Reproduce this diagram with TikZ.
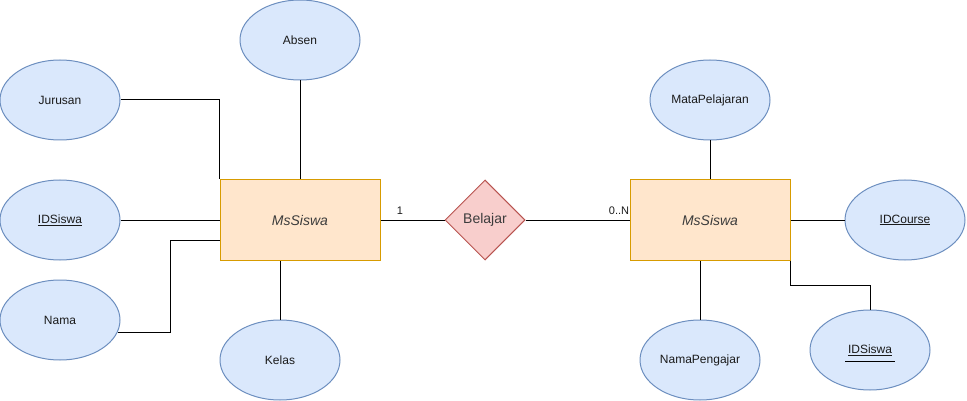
\documentclass[tikz,border=0pt]{standalone}
\usepackage{fontspec}
\setmainfont{Liberation Sans}
\usetikzlibrary{shapes.geometric,calc}
\definecolor{attrfill}{HTML}{DAE8FC}
\definecolor{attrdraw}{HTML}{6C8EBF}
\definecolor{entfill}{HTML}{FFE6CC}
\definecolor{entdraw}{HTML}{D79B00}
\definecolor{relfill}{HTML}{F8CECC}
\definecolor{reldraw}{HTML}{B85450}
\definecolor{txt}{HTML}{1A1A1A}
\tikzset{
  attr/.style={ellipse, draw=attrdraw, fill=attrfill, line width=1pt, minimum width=120pt, minimum height=80pt, inner sep=0pt, font=\fontsize{12pt}{14pt}\selectfont, text=txt},
  ent/.style={rectangle, draw=entdraw, fill=entfill, line width=1pt, minimum width=160pt, minimum height=80pt, inner sep=0pt, font=\fontsize{14pt}{16pt}\selectfont\itshape, text=txt!85},
  rel/.style={diamond, draw=reldraw, fill=relfill, line width=1pt, minimum width=80pt, minimum height=80pt, inner sep=0pt, aspect=1, font=\fontsize{14pt}{16pt}\selectfont, text=txt!85},
  conn/.style={line width=1pt, black},
  card/.style={font=\fontsize{11pt}{13pt}\selectfont, inner sep=0pt, text=txt}
}
\begin{document}
\begin{tikzpicture}[x=1pt,y=-1pt]
\useasboundingbox (0,0) rectangle (967,401);
% entities
\node[ent] (e1) at (300,220) {MsSiswa};
\node[ent] (e2) at (710,220) {MsSiswa};
\node[rel] (rel) at (485,220) {Belajar};
% attributes left
\node[attr] (absen) at (300,40) {Absen};
\node[attr] (jur) at (60,100) {Jurusan};
\node[attr] (ids1) at (60,220) {\underline{IDSiswa}};
\node[attr] (nama) at (60,320) {Nama};
\node[attr] (kelas) at (280,360) {Kelas};
% attributes right
\node[attr] (mp) at (710,100) {MataPelajaran};
\node[attr] (idc) at (905,220) {\underline{IDCourse}};
\node[attr] (np) at (700,360) {NamaPengajar};
\node[attr] (ids2) at (870,350) {\underline{IDSiswa}};
\draw[line width=0.8pt, black] ([xshift=-25pt,yshift=-11pt]ids2.center) -- ++(50,0);
% connectors left
\draw[conn] (jur.east) -| (e1.north west);
\draw[conn] (absen.south) -- (e1.north);
\draw[conn] (ids1.east) -- (e1.west);
\draw[conn] (nama.-12) -| ($(e1.west)+(-49,20)$) -- ($(e1.west)+(0,20)$);
\draw[conn] (kelas.north) -- (kelas.north |- e1.south);
% relationship
\draw[conn] (e1.east) -- (rel.west);
\draw[conn] (rel.east) -- (e2.west);
\node[card] (c1) at (400,211) {1};
\node[card] (c2) at (619,211) {0..N};
% connectors right
\draw[conn] (mp.south) -- (e2.north);
\draw[conn] (e2.east) -- (idc.west);
\draw[conn] (np.north) -- (np.north |- e2.south);
\draw[conn] (e2.south east) -- ++(0,25) -| (ids2.north);
\end{tikzpicture}
\end{document}
